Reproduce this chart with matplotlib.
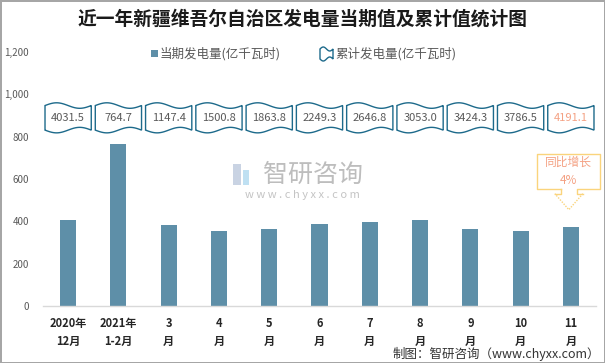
import numpy as np
import matplotlib
matplotlib.use("Agg")
import matplotlib.pyplot as plt
from matplotlib.patches import Rectangle, Polygon
from matplotlib.lines import Line2D
import matplotlib.transforms as mtransforms

plt.rcParams['font.family'] = ['Noto Sans CJK SC', 'DejaVu Sans']

# data
months = ["2020年\n12月", "2021年\n1-2月", "3\n月", "4\n月", "5\n月", "6\n月",
          "7\n月", "8\n月", "9\n月", "10\n月", "11\n月"]
monthly = [404.0, 764.7, 382.7, 353.4, 363.0, 385.5, 397.5, 406.2, 366.0, 356.0, 374.0]
cumulative = ["4031.5", "764.7", "1147.4", "1500.8", "1863.8", "2249.3",
              "2646.8", "3053.0", "3424.3", "3786.5", "4191.1"]

W, H = 605, 363
bar_color = "#5E8FA8"
flag_color = "#1D6A8B"
text_gray = "#595959"
salmon = "#F4A183"
gold = "#FAD47C"


def fx(x):
    return x / W


def fy(y):
    return 1 - y / H


fig = plt.figure(figsize=(W / 100, H / 100), dpi=100)
fig.patch.set_edgecolor("#A6A6A6")
fig.patch.set_linewidth(2)

ax = fig.add_axes([fx(43), fy(306), fx(596) - fx(43), fy(52) - fy(306)])
x = np.arange(len(months))
ax.bar(x, monthly, width=0.32, color=bar_color, zorder=2)
ax.set_xlim(-0.5, len(months) - 0.5)
ax.set_ylim(0, 1200)
ax.set_yticks(range(0, 1201, 200))
ax.set_yticklabels([f"{v:,}" for v in range(0, 1201, 200)], fontsize=7, color=text_gray)
ax.set_xticks(x)
ax.set_xticklabels(months, fontsize=8, fontweight="bold", color="#262626", linespacing=1.5)
ax.tick_params(axis="both", length=0)
ax.tick_params(axis="y", pad=10)
ax.tick_params(axis="x", pad=8)
for s in ["top", "right", "left"]:
    ax.spines[s].set_visible(False)
ax.spines["bottom"].set_color("#D9D9D9")
ax.spines["bottom"].set_linewidth(1)

# wavy flags with cumulative values
t = np.linspace(0, 1, 60)
half = 0.46
for i, lab in enumerate(cumulative):
    xs = i - half + 2 * half * t
    top = 947 + 13 * np.sin(2 * np.pi * t)
    bot = 831 - 13 * np.sin(2 * np.pi * t)
    pts = np.vstack([np.column_stack([xs, top]), np.column_stack([xs[::-1], bot[::-1]])])
    ax.add_patch(Polygon(pts, closed=True, facecolor="white", edgecolor=flag_color,
                         linewidth=1, zorder=3, clip_on=False))
    ax.text(i, 889, lab, ha="center", va="center", fontsize=8,
            color=salmon if i == len(cumulative) - 1 else text_gray, zorder=4)

# callout over the last bar
fig.canvas.draw()
tip = ax.transData.transform((len(monthly) - 1, monthly[-1] + 81))
tr = mtransforms.Affine2D().translate(tip[0] - 2, tip[1])
outline = [(-8, 21), (-32, 21), (-32, 56), (31, 56), (31, 21), (8, 21), (8, 16), (14, 16)]
fig.add_artist(Line2D([p[0] for p in outline], [p[1] for p in outline],
                      color=gold, linewidth=1, transform=tr))
fig.add_artist(Line2D([-8, -8, -14], [21, 16, 16], color=gold, linewidth=1, transform=tr))
fig.add_artist(Line2D([14, 0, -14], [16, 0, 16], color=gold, linewidth=1,
                      linestyle=(0, (1, 1)), transform=tr))
fig.text(0, 0, "同比增长", transform=tr + mtransforms.Affine2D().translate(0, 47),
         ha="center", va="center", fontsize=8.5, color=salmon)
fig.text(0, 0, "4%", transform=tr + mtransforms.Affine2D().translate(0, 29),
         ha="center", va="center", fontsize=8.5, color=salmon)

# title
fig.text(fx(303), fy(19), "近一年新疆维吾尔自治区发电量当期值及累计值统计图",
         ha="center", va="center", fontsize=13.5, fontweight="bold", color="#1A1A1A")

# legend
fig.add_artist(Rectangle((fx(151), fy(57)), fx(7), fy(50) - fy(57),
                         facecolor=bar_color, edgecolor="none", transform=fig.transFigure))
fig.text(fx(160), fy(54), "当期发电量(亿千瓦时)", ha="left", va="center",
         fontsize=9, color=text_gray)
lt = np.linspace(0, 1, 30)
lx = 320 + 13 * lt
ltop = 49 - 2 * np.sin(2 * np.pi * lt)
lbot = 59 + 2 * np.sin(2 * np.pi * lt)
leg_pts = [(fx(a), fy(b)) for a, b in zip(lx, ltop)] + \
          [(fx(a), fy(b)) for a, b in zip(lx[::-1], lbot[::-1])]
fig.add_artist(Polygon(leg_pts, closed=True, facecolor="white", edgecolor=flag_color,
                       linewidth=1, transform=fig.transFigure))
fig.text(fx(335), fy(54), "累计发电量(亿千瓦时)", ha="left", va="center",
         fontsize=9, color=text_gray)

# watermark
fig.add_artist(Rectangle((fx(233), fy(185)), fx(8), fy(164) - fy(185),
                         facecolor="#C9D3E3", edgecolor="none", transform=fig.transFigure))
fig.add_artist(Rectangle((fx(243), fy(185)), fx(6), fy(170) - fy(185),
                         facecolor="#BFE0F2", edgecolor="none", transform=fig.transFigure))
fig.text(fx(313), fy(175), "智研咨询", ha="center", va="center", fontsize=18,
         color="#BDBDBD")
fig.text(fx(302), fy(195), "w w w . c h y x x . c o m", ha="center", va="center",
         fontsize=8, color="#C4C4C4")

# footer
fig.text(fx(600), fy(354), "制图：智研咨询（www.chyxx.com）", ha="right", va="center",
         fontsize=9, color="#333333")

fig.savefig("out.png", dpi=100)
